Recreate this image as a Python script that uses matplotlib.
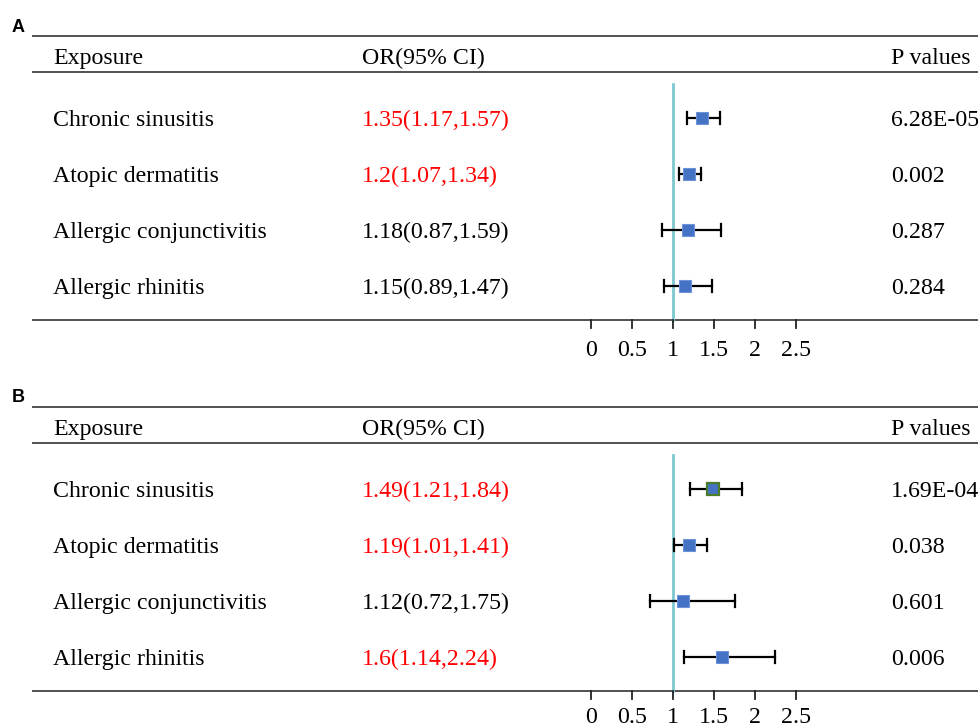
"""
    Forest plots of allergic exposures (panels A and B), rebuilt with matplotlib.
"""

import matplotlib.pyplot as plt
from matplotlib.transforms import blended_transform_factory

# ============================================================
# Data
# ============================================================

exposures = ['Chronic sinusitis', 'Atopic dermatitis',
             'Allergic conjunctivitis', 'Allergic rhinitis']

or_a = [1.35, 1.2, 1.18, 1.15]
lo_a = [1.17, 1.07, 0.87, 0.89]
hi_a = [1.57, 1.34, 1.59, 1.47]
p_a = ['6.28E-05', '0.002', '0.287', '0.284']
sig_a = [True, True, False, False]

or_b = [1.49, 1.19, 1.12, 1.6]
lo_b = [1.21, 1.01, 0.72, 1.14]
hi_b = [1.84, 1.41, 1.75, 2.24]
p_b = ['1.69E-04', '0.038', '0.601', '0.006']
sig_b = [True, True, False, True]

ticks = [0, 0.5, 1, 1.5, 2, 2.5]
tick_labels = ['0', '0.5', '1', '1.5', '2', '2.5']

# ============================================================
# Layout (figure pixels, y counted from the top)
# ============================================================

W, H = 979, 727
X0_PX, UNIT_PX = 591, 82          # where OR=0 sits and px per OR unit
SERIF = ['Liberation Serif', 'DejaVu Serif']
FS = 17.2
BLUE = '#4472C4'
CYAN = '#7ec8d0'


def fx(px):
    """Figure-fraction x from pixel x."""
    return px / W


def txt(ax, tr, x, y, s, **kw):
    """Serif text, vertically centred on its baseline region."""
    ax.text(x, y, s, transform=tr, family=SERIF, fontsize=FS,
            va='center_baseline', **kw)


def draw_panel(ax, label, top, ors, los, his, pvals, sig,
               edge_first=None, tick_gap=28):
    """Draw one forest panel whose top rule sits at pixel row `top`."""
    tr = blended_transform_factory(ax.figure.transFigure, ax.transData)
    header_line = top + 36
    rows = [top + 82 + 56 * i for i in range(4)]
    bottom = top + 284

    ax.text(fx(12), top - 9, label, transform=tr, fontsize=13,
            fontweight='bold', family='Liberation Sans', va='center')

    for y in (top, header_line, bottom):
        ax.plot([fx(32), 1.0], [y, y], transform=tr, color='#222222',
                lw=1.1, solid_capstyle='butt')

    hy = top + 20
    txt(ax, tr, fx(53), hy, 'Exposure')
    txt(ax, tr, fx(362), hy, 'OR(95% CI)')
    txt(ax, tr, fx(891), hy, 'P values')

    # reference line at OR = 1
    ax.plot([1, 1], [header_line + 12, bottom], color=CYAN, lw=2)

    for i, y in enumerate(rows):
        col = '#FF0000' if sig[i] else 'black'
        txt(ax, tr, fx(53), y, exposures[i])
        txt(ax, tr, fx(362), y, f'{ors[i]}({los[i]},{his[i]})', color=col)
        txt(ax, tr, fx(891), y, pvals[i])
        ax.plot([los[i], his[i]], [y, y], color='black', lw=1.6)
        for xc in (los[i], his[i]):
            ax.plot([xc, xc], [y - 6, y + 6], color='black', lw=1.6)
        first = edge_first is not None and i == 0
        ax.plot(ors[i], y, 's', ms=9, mfc=BLUE,
                mec=edge_first if first else '#6f93d8',
                mew=1.6 if first else 0.8, zorder=5)

    # x axis ticks and labels
    for t, tl in zip(ticks, tick_labels):
        ax.plot([t, t], [bottom, bottom + 8], color='#222222', lw=1.3)
        ax.text(t, bottom + tick_gap, tl, family=SERIF, fontsize=FS,
                ha='center', va='center_baseline')


def main():
    fig = plt.figure(figsize=(W / 100, H / 100), dpi=100)
    ax = fig.add_axes([0, 0, 1, 1])
    ax.set_xlim(-X0_PX / UNIT_PX, (W - X0_PX) / UNIT_PX)
    ax.set_ylim(H, 0)
    ax.axis('off')

    draw_panel(ax, 'A', 36, or_a, lo_a, hi_a, p_a, sig_a)
    draw_panel(ax, 'B', 407, or_b, lo_b, hi_b, p_b, sig_b,
               edge_first='#4a7d2a', tick_gap=24)

    fig.savefig('out.png', dpi=100)
    plt.close(fig)


if __name__ == '__main__':
    main()
